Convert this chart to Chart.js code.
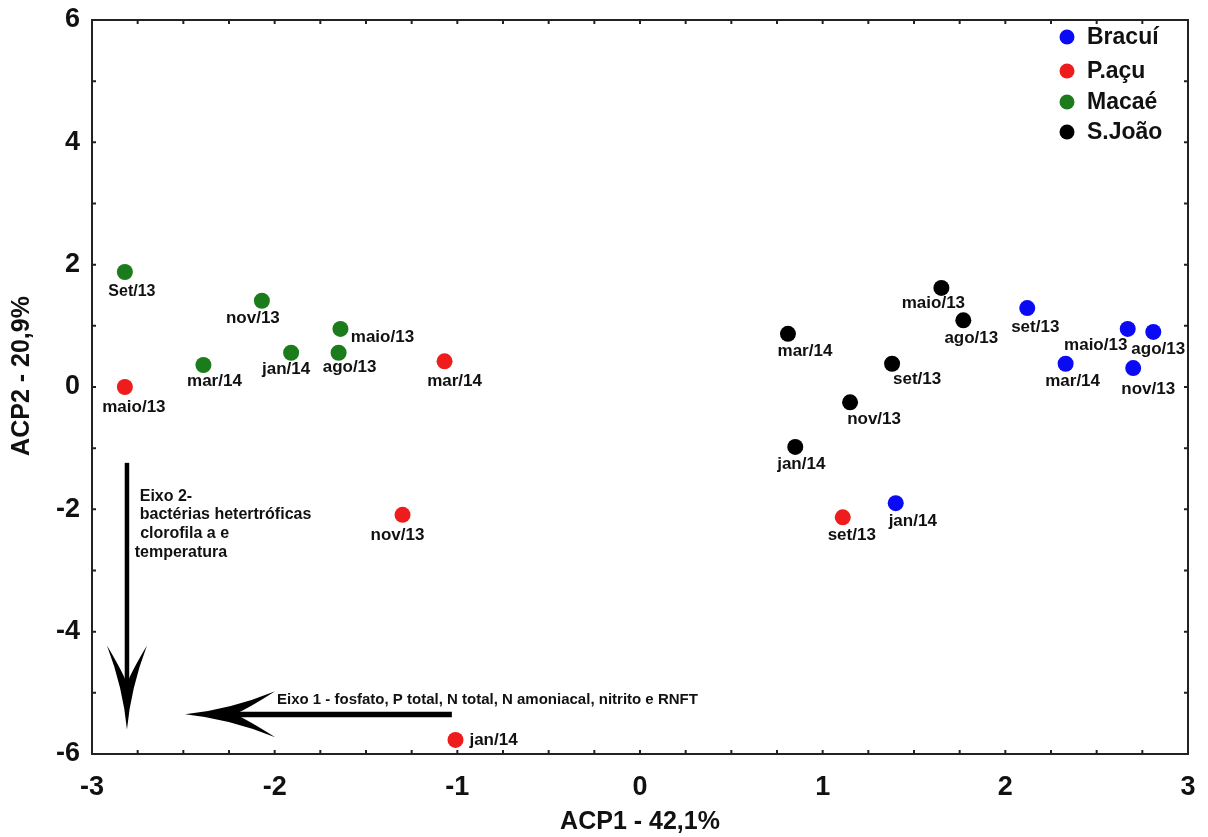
<!DOCTYPE html>
<html>
<head>
<meta charset="utf-8">
<script src="https://cdn.jsdelivr.net/npm/chart.js@4"></script>
<style>
  html, body { margin: 0; padding: 0; background: #fff; }
  #wrap { width: 1208px; height: 837px; }
</style>
</head>
<body>
<div id="wrap"><canvas id="graficoACP"></canvas></div>
<script>
// Escores ACP1 / ACP2 por estuario y campaña
const bracuiX = [2.12, 2.67, 2.81, 2.33, 2.70, 1.40];
const bracuiY = [1.29, 0.95, 0.90, 0.38, 0.31, -1.90];
const bracuiRot = ['set/13', 'maio/13', 'ago/13', 'mar/14', 'nov/13', 'jan/14'];

const pacuX = [-2.82, -1.07, -1.30, 1.11, -1.01];
const pacuY = [0.00, 0.42, -2.09, -2.13, -5.77];
const pacuRot = ['maio/13', 'mar/14', 'nov/13', 'set/13', 'jan/14'];

const macaeX = [-2.82, -2.07, -1.64, -2.39, -1.91, -1.65];
const macaeY = [1.88, 1.41, 0.95, 0.36, 0.56, 0.56];
const macaeRot = ['Set/13', 'nov/13', 'maio/13', 'mar/14', 'jan/14', 'ago/13'];

const sjoaoX = [1.65, 1.77, 0.81, 1.38, 1.15, 0.85];
const sjoaoY = [1.62, 1.09, 0.87, 0.38, -0.25, -0.98];
const sjoaoRot = ['maio/13', 'ago/13', 'mar/14', 'set/13', 'nov/13', 'jan/14'];

const estuarios = ['Bracuí', 'P.açu', 'Macaé', 'S.João'];
const xTicks = [-3, -2, -1, 0, 1, 2, 3];
const yTicks = [-6, -4, -2, 0, 2, 4, 6];

// desplazamiento (px) de cada etiqueta respecto a su punto
const desp = [
  [[8, 19], [-32, 16], [5, 17], [7, 18], [15, 21], [17, 18]],
  [[9, 20], [10, 20], [-5, 20], [9, 18], [38, 0]],
  [[7, 20], [-9, 18], [42, 8], [11, 16], [-5, 17], [11, 15]],
  [[-8, 15], [8, 18], [17, 18], [25, 16], [24, 17], [6, 17]]
];
const colores = ['#0a0af5', '#ee1c1c', '#1c7c1c', '#000000'];

const FUENTE = "'Liberation Sans', Arial, sans-serif";

function puntos(xs, ys) {
  return xs.map((v, i) => ({ x: v, y: ys[i] }));
}

function punta(ctx, x, y, ang, len, half) {
  ctx.save();
  ctx.translate(x, y);
  ctx.rotate(ang);
  ctx.beginPath();
  ctx.moveTo(0, 0);
  ctx.quadraticCurveTo(-len * 0.5, -half * 0.2, -len, -half);
  ctx.quadraticCurveTo(-len * 0.7, -half * 0.25, -len * 0.55, 0);
  ctx.quadraticCurveTo(-len * 0.7, half * 0.25, -len, half);
  ctx.quadraticCurveTo(-len * 0.5, half * 0.2, 0, 0);
  ctx.fill();
  ctx.restore();
}

const marco = {
  id: 'marco',
  beforeDatasetsDraw(chart) {
    const { ctx, chartArea: a, scales: { x, y } } = chart;
    ctx.save();
    ctx.strokeStyle = '#222';
    ctx.lineWidth = 2;
    ctx.strokeRect(a.left, a.top, a.right - a.left, a.bottom - a.top);
    ctx.beginPath();
    for (let v = -2.75; v < 3; v += 0.25) {
      const px = x.getPixelForValue(v);
      ctx.moveTo(px, a.bottom); ctx.lineTo(px, a.bottom - 4);
      ctx.moveTo(px, a.top); ctx.lineTo(px, a.top + 4);
    }
    for (let v = -5; v < 6; v += 1) {
      const py = y.getPixelForValue(v);
      ctx.moveTo(a.left, py); ctx.lineTo(a.left + 4, py);
      ctx.moveTo(a.right, py); ctx.lineTo(a.right - 4, py);
    }
    ctx.stroke();

    // título del eje vertical
    ctx.fillStyle = '#111';
    ctx.font = 'bold 25px ' + FUENTE;
    ctx.textAlign = 'center';
    ctx.textBaseline = 'middle';
    ctx.translate(22, 376);
    ctx.rotate(-Math.PI / 2);
    ctx.fillText('ACP2 - 20,9%', 0, 0);
    ctx.restore();
  },
  afterDatasetsDraw(chart) {
    const { ctx, chartArea: a, scales: { x, y } } = chart;
    ctx.save();
    ctx.fillStyle = '#111';
    ctx.textAlign = 'center';
    ctx.textBaseline = 'middle';

    // etiquetas de los puntos
    chart.data.datasets.forEach((ds, d) => {
      chart.getDatasetMeta(d).data.forEach((el, i) => {
        const rot = ds.rotulos[i];
        ctx.font = (rot === 'Set/13' ? 'bold 16px ' : 'bold 17px ') + FUENTE;
        ctx.fillText(rot, el.x + desp[d][i][0], el.y + desp[d][i][1]);
      });
    });

    // flecha eixo 2
    ctx.fillStyle = '#000';
    const vx = x.getPixelForValue(-2.81);
    const vy0 = y.getPixelForValue(-1.24), vy1 = y.getPixelForValue(-5.6);
    ctx.fillRect(vx - 2, vy0, 4.5, vy1 - vy0 - 40);
    punta(ctx, vx + 0.25, vy1, Math.PI / 2, 84, 20);

    // flecha eixo 1
    const hy = y.getPixelForValue(-5.35);
    const hx0 = x.getPixelForValue(-1.03), hx1 = x.getPixelForValue(-2.49);
    ctx.fillRect(hx1 + 40, hy - 2.5, hx0 - hx1 - 40, 5.5);
    punta(ctx, hx1, hy, Math.PI, 90, 23);

    // textos de los ejes
    ctx.fillStyle = '#111';
    ctx.textAlign = 'left';
    ctx.font = 'bold 16px ' + FUENTE;
    ctx.fillText('Eixo 2-', vx + 13, 497);
    ctx.fillText('bactérias hetertróficas', vx + 13, 515);
    ctx.fillText(' clorofila a e', vx + 9, 534);
    ctx.fillText('temperatura', vx + 8, 553);
    ctx.font = 'bold 15px ' + FUENTE;
    ctx.textBaseline = 'alphabetic';
    ctx.fillText('Eixo 1 - fosfato, P total, N total, N amoniacal, nitrito e RNFT', 277, 704, 448);

    // leyenda
    ctx.textBaseline = 'middle';
    ctx.font = 'bold 23px ' + FUENTE;
    const filas = [17, 51, 82, 112];
    chart.data.datasets.forEach((ds, d) => {
      const cy = a.top + filas[d];
      ctx.fillStyle = ds.backgroundColor;
      ctx.beginPath();
      ctx.arc(a.right - 121, cy, 7.5, 0, Math.PI * 2);
      ctx.fill();
      ctx.fillStyle = '#111';
      ctx.fillText(ds.label, a.right - 101, cy + 1);
    });
    ctx.restore();
  }
};

const series = [
  [bracuiX, bracuiY, bracuiRot],
  [pacuX, pacuY, pacuRot],
  [macaeX, macaeY, macaeRot],
  [sjoaoX, sjoaoY, sjoaoRot]
];

const ctx = document.getElementById('graficoACP').getContext('2d');
new Chart(ctx, {
  type: 'scatter',
  data: {
    datasets: series.map((s, d) => ({
      label: estuarios[d],
      data: puntos(s[0], s[1]),
      rotulos: s[2],
      backgroundColor: colores[d],
      borderWidth: 0,
      pointRadius: 8,
      pointHoverRadius: 8
    }))
  },
  options: {
    responsive: true,
    maintainAspectRatio: false,
    animation: false,
    clip: false,
    layout: { padding: { top: 20, right: 20, left: 0, bottom: 0 } },
    plugins: {
      legend: { display: false },
      tooltip: { enabled: false }
    },
    scales: {
      x: {
        type: 'linear',
        min: -3,
        max: 3,
        afterBuildTicks: s => { s.ticks = xTicks.map(v => ({ value: v })); },
        afterFit: s => { s.height = 83; s.paddingLeft = 0; s.paddingRight = 0; },
        grid: { display: false, drawTicks: false, tickLength: 0 },
        border: { display: false },
        ticks: { color: '#111', padding: 17, font: { family: FUENTE, size: 27, weight: 'bold' } },
        title: {
          display: true,
          text: 'ACP1 - 42,1%',
          color: '#111',
          padding: { top: 0, bottom: 0 },
          font: { family: FUENTE, size: 25, weight: 'bold' }
        }
      },
      y: {
        type: 'linear',
        min: -6,
        max: 6,
        afterBuildTicks: s => { s.ticks = yTicks.map(v => ({ value: v })); },
        afterFit: s => { s.width = 92; s.paddingTop = 0; s.paddingBottom = 0; },
        grid: { display: false, drawTicks: false, tickLength: 0 },
        border: { display: false },
        ticks: { color: '#111', padding: 12, font: { family: FUENTE, size: 27, weight: 'bold' } },
        title: { display: false }
      }
    }
  },
  plugins: [marco]
});
</script>
</body>
</html>
